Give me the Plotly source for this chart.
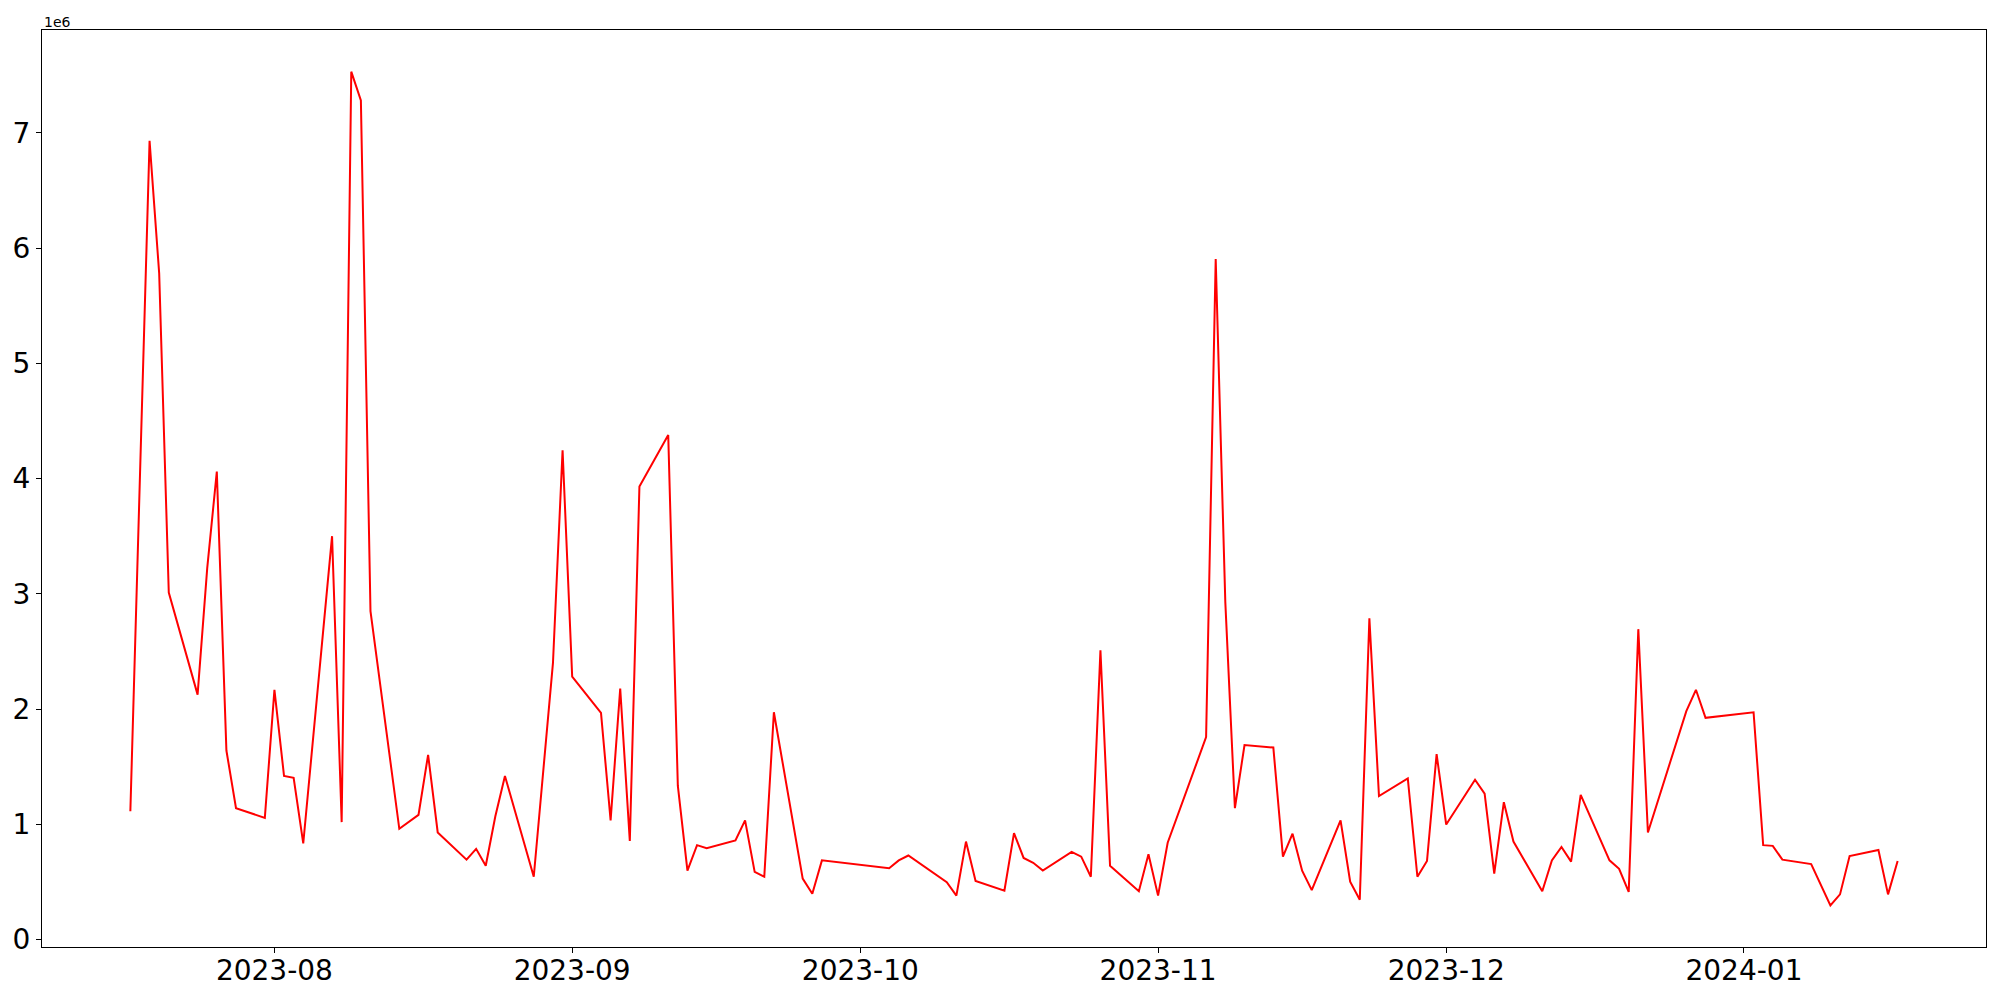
import plotly.graph_objects as go

dates = [
    "2023-07-17", "2023-07-19", "2023-07-20", "2023-07-21", "2023-07-24", "2023-07-25",
    "2023-07-26", "2023-07-27", "2023-07-28", "2023-07-31", "2023-08-01", "2023-08-02",
    "2023-08-03", "2023-08-04", "2023-08-07", "2023-08-08", "2023-08-09", "2023-08-10",
    "2023-08-11", "2023-08-14", "2023-08-16", "2023-08-17", "2023-08-18", "2023-08-21",
    "2023-08-22", "2023-08-23", "2023-08-24", "2023-08-25", "2023-08-28", "2023-08-30",
    "2023-08-31", "2023-09-01", "2023-09-04", "2023-09-05", "2023-09-06", "2023-09-07",
    "2023-09-08", "2023-09-11", "2023-09-12", "2023-09-13", "2023-09-14", "2023-09-15",
    "2023-09-18", "2023-09-19", "2023-09-20", "2023-09-21", "2023-09-22", "2023-09-25",
    "2023-09-26", "2023-09-27", "2023-10-04", "2023-10-05", "2023-10-06", "2023-10-10",
    "2023-10-11", "2023-10-12", "2023-10-13", "2023-10-16", "2023-10-17", "2023-10-18",
    "2023-10-19", "2023-10-20", "2023-10-23", "2023-10-24", "2023-10-25", "2023-10-26",
    "2023-10-27", "2023-10-30", "2023-10-31", "2023-11-01", "2023-11-02", "2023-11-06",
    "2023-11-07", "2023-11-08", "2023-11-09", "2023-11-10", "2023-11-13", "2023-11-14",
    "2023-11-15", "2023-11-16", "2023-11-17", "2023-11-20", "2023-11-21", "2023-11-22",
    "2023-11-23", "2023-11-24", "2023-11-27", "2023-11-28", "2023-11-29", "2023-11-30",
    "2023-12-01", "2023-12-04", "2023-12-05", "2023-12-06", "2023-12-07", "2023-12-08",
    "2023-12-11", "2023-12-12", "2023-12-13", "2023-12-14", "2023-12-15", "2023-12-18",
    "2023-12-19", "2023-12-20", "2023-12-21", "2023-12-22", "2023-12-26", "2023-12-27",
    "2023-12-28", "2024-01-02", "2024-01-03", "2024-01-04", "2024-01-05", "2024-01-08",
    "2024-01-10", "2024-01-11", "2024-01-12", "2024-01-15", "2024-01-16", "2024-01-17",
]

values = [
    1113000, 6930000, 5780000, 3010000, 2125000, 3220000,
    4060000, 1640000, 1140000, 1056000, 2167000, 1419000,
    1403000, 834000, 3500000, 1019000, 7530000, 7280000,
    2850000, 961000, 1082000, 1603000, 929000, 693000,
    787000, 640000, 1070000, 1419000, 545000, 2400000,
    4246000, 2282000, 1967000, 1034000, 2177000, 855000,
    3930000, 4378000, 1335000, 598000, 819000, 793000,
    860000, 1034000, 587000, 545000, 1972000, 529000,
    397000, 687000, 619000, 687000, 729000, 497000,
    381000, 850000, 508000, 424000, 924000, 708000,
    666000, 598000, 760000, 719000, 545000, 2509000,
    640000, 419000, 740000, 381000, 840000, 1756000,
    5905000, 2930000, 1140000, 1688000, 1666000, 719000,
    919000, 598000, 429000, 1034000, 502000, 345000,
    2788000, 1245000, 1398000, 545000, 682000, 1609000,
    998000, 1387000, 1266000, 571000, 1192000, 850000,
    419000, 687000, 803000, 676000, 1256000, 687000,
    614000, 413000, 2693000, 929000, 1982000, 2167000,
    1924000, 1972000, 819000, 813000, 693000, 655000,
    297000, 392000, 724000, 777000, 392000, 682000,
]

y_tick_values = [0, 1000000, 2000000, 3000000, 4000000, 5000000, 6000000, 7000000]
y_tick_labels = ["0", "1", "2", "3", "4", "5", "6", "7"]
x_tick_values = ["2023-08-01", "2023-09-01", "2023-10-01", "2023-11-01", "2023-12-01", "2024-01-01"]
x_tick_labels = ["2023-08", "2023-09", "2023-10", "2023-11", "2023-12", "2024-01"]

FONT = "DejaVu Sans"

fig = go.Figure()
fig.add_trace(go.Scatter(
    x=dates, y=values, mode="lines",
    line=dict(color="red", width=2),
    showlegend=False,
))

ymin, ymax = min(values), max(values)
pad = 0.05 * (ymax - ymin)

# page body has an 8px default margin, so the figure is drawn 8px in from the top-left
fig.update_layout(
    template="none",
    width=1992, height=992,
    margin=dict(l=34, r=14, t=22, b=53, pad=0, autoexpand=False),
    paper_bgcolor="white", plot_bgcolor="white",
    font=dict(family=FONT, color="black"),
    xaxis=dict(
        type="date", automargin=False,
        range=["2023-07-07 19:12", "2024-01-26 04:48"],
        tickvals=x_tick_values, ticktext=x_tick_labels,
        showgrid=False, zeroline=False,
        showline=True, linecolor="black", linewidth=1, mirror=True,
        ticks="outside", ticklen=5, tickwidth=1, tickcolor="black",
        ticklabelstandoff=-7,
        tickfont=dict(family=FONT, size=28, color="black"),
    ),
    yaxis=dict(
        automargin=False,
        range=[ymin - pad, ymax + pad],
        tickvals=y_tick_values, ticktext=y_tick_labels,
        showgrid=False, zeroline=False,
        showline=True, linecolor="black", linewidth=1, mirror=True,
        ticks="outside", ticklen=5, tickwidth=1, tickcolor="black",
        tickfont=dict(family=FONT, size=28, color="black"),
    ),
    annotations=[dict(
        text="1e6", xref="paper", yref="paper", x=0, y=1,
        xanchor="left", yanchor="bottom", showarrow=False,
        font=dict(family=FONT, size=14, color="black"), yshift=-2,
    )],
)

fig.write_html("out.html")
